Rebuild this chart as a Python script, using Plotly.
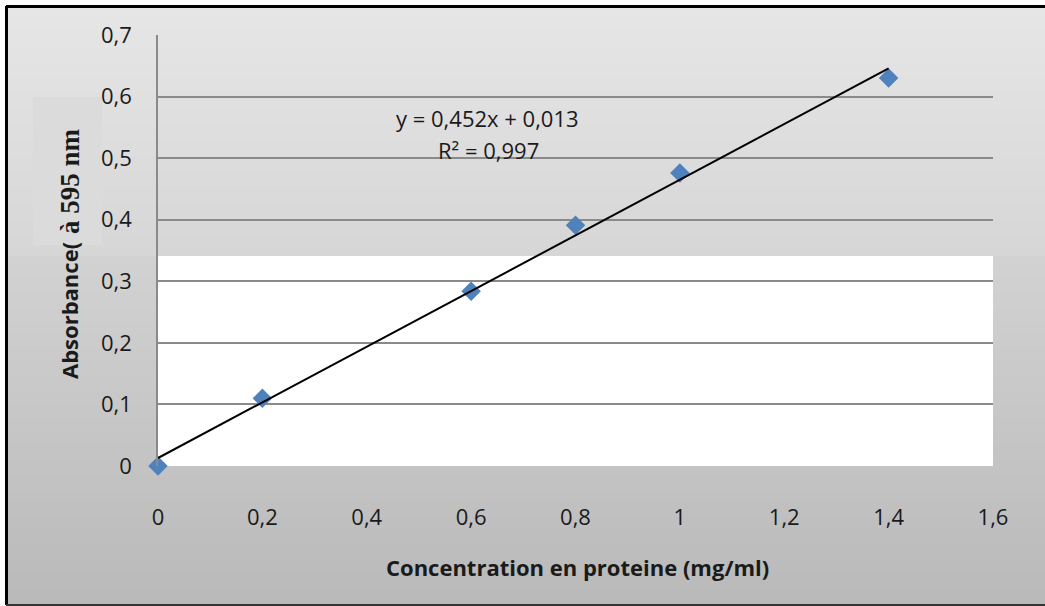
import plotly.graph_objects as go

# Protein standard curve (Bradford assay)
concentration = [0, 0.2, 0.6, 0.8, 1.0, 1.4]
absorbance = [0.0, 0.11, 0.284, 0.391, 0.476, 0.63]

# Linear fit reported on the chart
slope = 0.452
intercept = 0.013
r_squared = 0.997

x_tick_vals = [0, 0.2, 0.4, 0.6, 0.8, 1.0, 1.2, 1.4, 1.6]
x_tick_text = ["0", "0,2", "0,4", "0,6", "0,8", "1", "1,2", "1,4", "1,6"]
y_tick_vals = [0, 0.1, 0.2, 0.3, 0.4, 0.5, 0.6, 0.7]
y_tick_text = ["0", "0,1", "0,2", "0,3", "0,4", "0,5", "0,6", "0,7"]

W, H = 1045, 606
L, R, T, B = 158, 993, 35, 466


def px(x):
    return (x - L) / (R - L)


def py(y):
    return (B - y) / (B - T)


def fmt(v):
    return str(v).replace(".", ",")


fit_x = [concentration[0], concentration[-1]]
fit_y = [slope * x + intercept for x in fit_x]

fig = go.Figure()

fig.add_trace(go.Scatter(
    x=concentration, y=absorbance, mode="markers",
    marker=dict(symbol="diamond", size=15, color="#4f81bd"),
    cliponaxis=False, showlegend=False, hoverinfo="x+y",
))
fig.add_trace(go.Scatter(
    x=fit_x, y=fit_y, mode="lines",
    line=dict(color="black", width=2),
    cliponaxis=False, showlegend=False, hoverinfo="skip",
))

shapes = []


def band(y0, y1, c0, c1, step=3):
    y = y0
    while y < y1:
        yb = min(y + step, y1)
        t = (y - y0) / max(1, (y1 - y0))
        c = round(c0 + (c1 - c0) * t)
        col = f"rgb({c},{c},{c})"
        shapes.append(dict(
            type="rect", xref="paper", yref="paper",
            x0=px(7), x1=px(W + 2), y0=py(yb), y1=py(y),
            fillcolor=col, line=dict(width=0), layer="below",
        ))
        y = yb


# chart background gradient
band(6, 256, 230, 214)
band(256, 606, 210, 185)

# shaded box behind part of the axis title
shapes.append(dict(
    type="rect", xref="paper", yref="paper",
    x0=px(33), x1=px(102), y0=py(245), y1=py(97),
    fillcolor="rgb(219,219,219)", line=dict(width=0), layer="below",
))

# white lower part of the plotting area
shapes.append(dict(
    type="rect", xref="paper", yref="paper",
    x0=0, x1=1, y0=0, y1=py(256),
    fillcolor="white", line=dict(width=0), layer="below",
))

# outer frame
frame = dict(color="black", width=3)
shapes.append(dict(type="line", xref="paper", yref="paper",
                   x0=px(6), x1=px(W + 5), y0=py(6.5), y1=py(6.5), line=frame))
shapes.append(dict(type="line", xref="paper", yref="paper",
                   x0=px(6.5), x1=px(6.5), y0=py(6), y1=py(605), line=frame))
shapes.append(dict(type="line", xref="paper", yref="paper",
                   x0=px(6), x1=px(W + 5), y0=py(605), y1=py(605),
                   line=dict(color="#333333", width=2)))

font_main = "Open Sans, DejaVu Sans, sans-serif"

annotations = [
    dict(text=f"y = {fmt(slope)}x + {fmt(intercept)}", xref="paper", yref="paper",
         x=px(487), y=py(118), showarrow=False, xanchor="center", yanchor="middle",
         font=dict(family=font_main, size=22, color="#1a1a1a")),
    dict(text=f"R² = {fmt(r_squared)}", xref="paper", yref="paper",
         x=px(488), y=py(150), showarrow=False, xanchor="center", yanchor="middle",
         font=dict(family=font_main, size=22, color="#1a1a1a")),
    dict(text="<b>Concentration en proteine (mg/ml)</b>", xref="paper", yref="paper",
         x=px(577), y=py(567), showarrow=False, xanchor="center", yanchor="middle",
         font=dict(family=font_main, size=22, color="#1a1a1a")),
    dict(text="<b>Absorbance(</b>", xref="paper", yref="paper", textangle=-90,
         x=px(69), y=py(311), showarrow=False, xanchor="center", yanchor="middle",
         font=dict(family=font_main, size=22, color="#1a1a1a")),
    dict(text="<b>à 595 nm</b>", xref="paper", yref="paper", textangle=-90,
         x=px(70), y=py(181), showarrow=False, xanchor="center", yanchor="middle",
         font=dict(family="Liberation Serif, Times New Roman, serif", size=27,
                   color="#1a1a1a")),
]

fig.update_layout(
    width=W, height=H,
    margin=dict(l=L, r=W - R, t=T, b=H - B),
    paper_bgcolor="white",
    plot_bgcolor="rgba(0,0,0,0)",
    shapes=shapes,
    annotations=annotations,
    font=dict(family=font_main, size=22, color="#1a1a1a"),
    xaxis=dict(
        range=[0, 1.6], tickvals=x_tick_vals, ticktext=x_tick_text,
        showgrid=False, zeroline=False, showline=False,
        ticks="", ticklabelstandoff=36,
        tickfont=dict(size=22, color="#1a1a1a"),
    ),
    yaxis=dict(
        range=[0, 0.7], tickvals=y_tick_vals, ticktext=y_tick_text,
        showgrid=True, gridcolor="#8a8a8a", gridwidth=1.5,
        zeroline=False, showline=True, linecolor="#8a8a8a", linewidth=1.5,
        ticks="", ticklabelstandoff=20,
        tickfont=dict(size=22, color="#1a1a1a"),
    ),
)

fig.write_html("out.html")
